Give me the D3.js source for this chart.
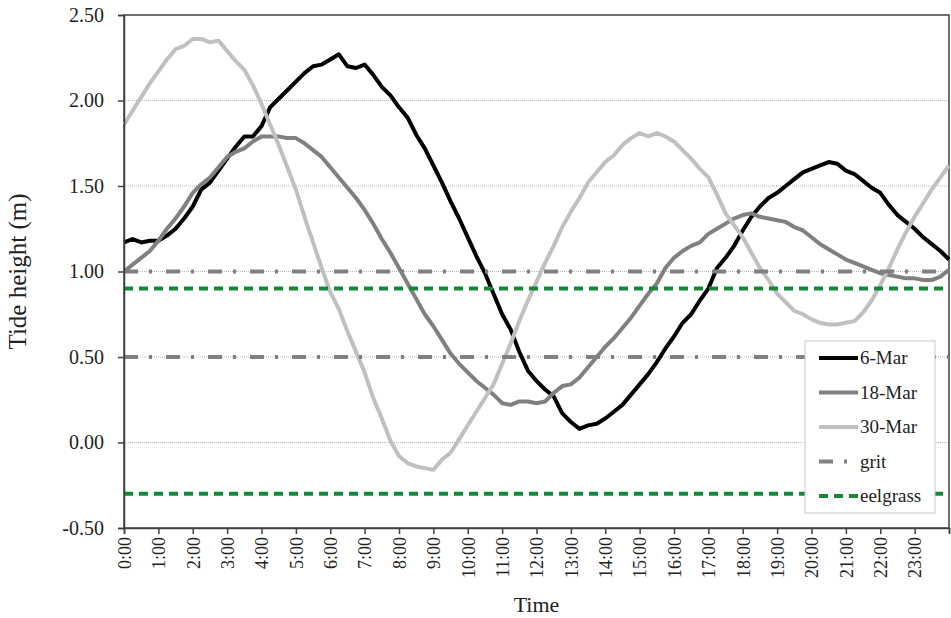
<!DOCTYPE html>
<html>
<head>
<meta charset="utf-8">
<script src="https://cdn.jsdelivr.net/npm/d3@7"></script>
<style>
  body { margin: 0; background: #fff; }
  svg text { font-family: 'Liberation Serif', 'DejaVu Serif', serif; fill: #222; }
</style>
</head>
<body>
<div class="chart"></div>
<script>
const times = [0,0.25,0.5,0.75,1,1.25,1.5,1.75,2,2.25,2.5,2.75,3,3.25,3.5,3.75,
               4,4.25,4.5,4.75,5,5.25,5.5,5.75,6,6.25,6.5,6.75,7,7.25,7.5,7.75,
               8,8.25,8.5,8.75,9,9.25,9.5,9.75,10,10.25,10.5,10.75,11,11.25,11.5,11.75,
               12,12.25,12.5,12.75,13,13.25,13.5,13.75,14,14.25,14.5,14.75,15,15.25,15.5,15.75,
               16,16.25,16.5,16.75,17,17.25,17.5,17.75,18,18.25,18.5,18.75,19,19.25,19.5,19.75,
               20,20.25,20.5,20.75,21,21.25,21.5,21.75,22,22.25,22.5,22.75,23,23.25,23.5,23.75,24]

const mar6 = [1.17,1.19,1.17,1.18,1.18,1.21,1.25,1.31,1.38,1.48,1.52,1.59,1.66,1.73,1.79,1.79,
              1.85,1.96,2.01,2.06,2.11,2.16,2.20,2.21,2.24,2.27,2.20,2.19,2.21,2.15,2.08,2.03,
              1.96,1.90,1.80,1.72,1.62,1.52,1.41,1.31,1.20,1.09,0.99,0.87,0.75,0.66,0.53,0.42,
              0.36,0.31,0.27,0.17,0.12,0.08,0.10,0.11,0.14,0.18,0.22,0.28,0.34,0.40,0.47,0.55,
              0.62,0.70,0.75,0.83,0.90,1.02,1.08,1.15,1.24,1.32,1.38,1.43,1.46,1.50,1.54,1.58,
              1.60,1.62,1.64,1.63,1.59,1.57,1.53,1.49,1.46,1.39,1.33,1.29,1.25,1.20,1.16,1.12,1.07]

const mar18 = [1.00,1.04,1.08,1.12,1.18,1.25,1.31,1.38,1.46,1.51,1.55,1.61,1.67,1.70,1.72,1.76,
               1.79,1.79,1.79,1.78,1.78,1.75,1.71,1.67,1.61,1.55,1.49,1.43,1.36,1.28,1.19,1.11,
               1.02,0.93,0.84,0.75,0.68,0.60,0.52,0.46,0.41,0.36,0.32,0.28,0.23,0.22,0.24,0.24,
               0.23,0.24,0.29,0.33,0.34,0.38,0.44,0.50,0.56,0.61,0.67,0.73,0.80,0.87,0.93,1.02,
               1.08,1.12,1.15,1.17,1.22,1.25,1.28,1.31,1.33,1.34,1.32,1.31,1.30,1.29,1.26,1.24,
               1.20,1.16,1.13,1.10,1.07,1.05,1.03,1.01,0.99,0.98,0.97,0.96,0.96,0.95,0.95,0.97,1.01]

const mar30 = [1.86,1.94,2.02,2.10,2.17,2.24,2.30,2.32,2.36,2.36,2.34,2.35,2.29,2.23,2.18,2.09,
               1.98,1.86,1.74,1.61,1.48,1.32,1.17,1.02,0.88,0.78,0.65,0.53,0.41,0.26,0.14,0.01,
               -0.08,-0.12,-0.14,-0.15,-0.16,-0.10,-0.06,0.02,0.10,0.18,0.26,0.34,0.46,0.58,0.71,0.83,
               0.94,1.05,1.15,1.26,1.35,1.43,1.52,1.58,1.64,1.68,1.74,1.78,1.81,1.79,1.81,1.79,
               1.76,1.71,1.66,1.60,1.55,1.45,1.34,1.27,1.20,1.11,1.02,0.95,0.87,0.82,0.77,0.75,
               0.72,0.70,0.69,0.69,0.70,0.71,0.76,0.83,0.92,1.02,1.13,1.23,1.32,1.40,1.48,1.55,1.62]

const gritLevels = [1.0, 0.5]
const eelgrassLevels = [0.9, -0.3]

const hourLabels = ['0:00','1:00','2:00','3:00','4:00','5:00','6:00','7:00','8:00','9:00','10:00','11:00',
                    '12:00','13:00','14:00','15:00','16:00','17:00','18:00','19:00','20:00','21:00','22:00','23:00']
const yTicks = [-0.5, 0, 0.5, 1, 1.5, 2, 2.5]

const legendNames = ['6-Mar','18-Mar','30-Mar','grit','eelgrass']

let w = 951,
    h = 618
const m = {left: 124, right: 2, top: 15, bottom: 90}

const styles = {
  '6-Mar':   {color: '#000000', width: 4, dash: null},
  '18-Mar':  {color: '#808080', width: 4, dash: null},
  '30-Mar':  {color: '#c0c0c0', width: 4, dash: null},
  'grit':    {color: '#808080', width: 4, dash: '14,11,3,14'},
  'eelgrass':{color: '#14873a', width: 4, dash: '9,6'}
}

const x = d3.scaleLinear().domain([0, 24]).range([m.left, w - m.right])
const y = d3.scaleLinear().domain([-0.5, 2.5]).range([h - m.bottom, m.top])

const svg = d3.select('.chart')
              .append('svg')
              .attr('width', w)
              .attr('height', h)

// gridlines
svg.append('g')
   .selectAll('line')
   .data(yTicks.filter(d => d > -0.5 && d < 2.5))
   .enter()
   .append('line')
   .attr('x1', x(0)).attr('x2', x(24))
   .attr('y1', d => y(d)).attr('y2', d => y(d))
   .attr('stroke', '#b8b8b8')
   .attr('stroke-width', 1)
   .attr('stroke-dasharray', '1,1')

// frame
svg.append('rect')
   .attr('x', x(0)).attr('y', y(2.5))
   .attr('width', x(24) - x(0)).attr('height', y(-0.5) - y(2.5))
   .attr('fill', 'none')
   .attr('stroke', '#404040')
   .attr('stroke-width', 1.5)

const line = d3.line()
               .x(d => x(d[0]))
               .y(d => y(d[1]))

const seriesData = [
  {name: '6-Mar', values: mar6},
  {name: '18-Mar', values: mar18},
  {name: '30-Mar', values: mar30}
]

seriesData.forEach(s => {
  svg.append('path')
     .datum(times.map((t, i) => [t, s.values[i]]))
     .attr('d', line)
     .attr('fill', 'none')
     .attr('stroke', styles[s.name].color)
     .attr('stroke-width', styles[s.name].width)
     .attr('stroke-linejoin', 'round')
})

const levelLines = [
  {name: 'grit', levels: gritLevels},
  {name: 'eelgrass', levels: eelgrassLevels}
]

levelLines.forEach(l => {
  l.levels.forEach(v => {
    svg.append('path')
       .datum([[0, v], [24, v]])
       .attr('d', line)
       .attr('fill', 'none')
       .attr('stroke', styles[l.name].color)
       .attr('stroke-width', styles[l.name].width)
       .attr('stroke-dasharray', styles[l.name].dash)
  })
})

// y axis
const yAxis = svg.append('g')
                 .attr('transform', `translate(${x(0)},0)`)
                 .call(d3.axisLeft(y).tickValues(yTicks)
                         .tickFormat(d => d3.format('.2f')(d).replace('\u2212', '-'))
                         .tickSize(6).tickPadding(14))
yAxis.select('.domain').attr('stroke', '#404040').attr('stroke-width', 1.5)
yAxis.selectAll('.tick line').attr('stroke', '#404040').attr('stroke-width', 1.5)
yAxis.selectAll('.tick text')
     .style('font-family', "'Liberation Serif', serif")
     .style('font-size', '20px')
     .attr('fill', '#222')

// x axis
const xAxis = svg.append('g')
                 .attr('transform', `translate(0,${y(-0.5)})`)
                 .call(d3.axisBottom(x).tickValues(d3.range(0, 25)).tickFormat(d => hourLabels[d] || '').tickSize(6))
xAxis.select('.domain').attr('stroke', '#404040').attr('stroke-width', 1.5)
xAxis.selectAll('.tick line').attr('stroke', '#404040').attr('stroke-width', 1.5)
xAxis.selectAll('.tick text')
     .style('font-family', "'Liberation Serif', serif")
     .style('font-size', '18px')
     .attr('fill', '#222')
     .attr('text-anchor', 'end')
     .attr('transform', 'rotate(-90)')
     .attr('x', -9)
     .attr('y', 0)
     .attr('dy', '0.35em')

// axis titles
svg.append('text')
   .text('Tide height (m)')
   .attr('transform', `translate(26,${(y(-0.5) + y(2.5)) / 2}) rotate(-90)`)
   .attr('text-anchor', 'middle')
   .style('font-size', '25px')

svg.append('text')
   .text('Time')
   .attr('x', (x(0) + x(24)) / 2)
   .attr('y', 612)
   .attr('text-anchor', 'middle')
   .style('font-size', '22px')

// legend
let legend = svg.append('g')
                .attr('id', 'legend')
                .attr('transform', 'translate(805,341)')

legend.append('rect')
      .attr('width', 130)
      .attr('height', 172)
      .attr('fill', '#fff')
      .attr('stroke', '#c8c8c8')
      .attr('stroke-width', 1)

legendNames.forEach((name, i) => {
  let ly = 17 + i * 34.5
  legend.append('line')
        .attr('x1', 14).attr('x2', 53)
        .attr('y1', ly).attr('y2', ly)
        .attr('stroke', styles[name].color)
        .attr('stroke-width', styles[name].width)
        .attr('stroke-dasharray', styles[name].dash)
  legend.append('text')
        .text(name)
        .attr('x', 55)
        .attr('y', ly)
        .attr('dy', '0.33em')
        .style('font-size', '19px')
})
</script>
</body>
</html>
